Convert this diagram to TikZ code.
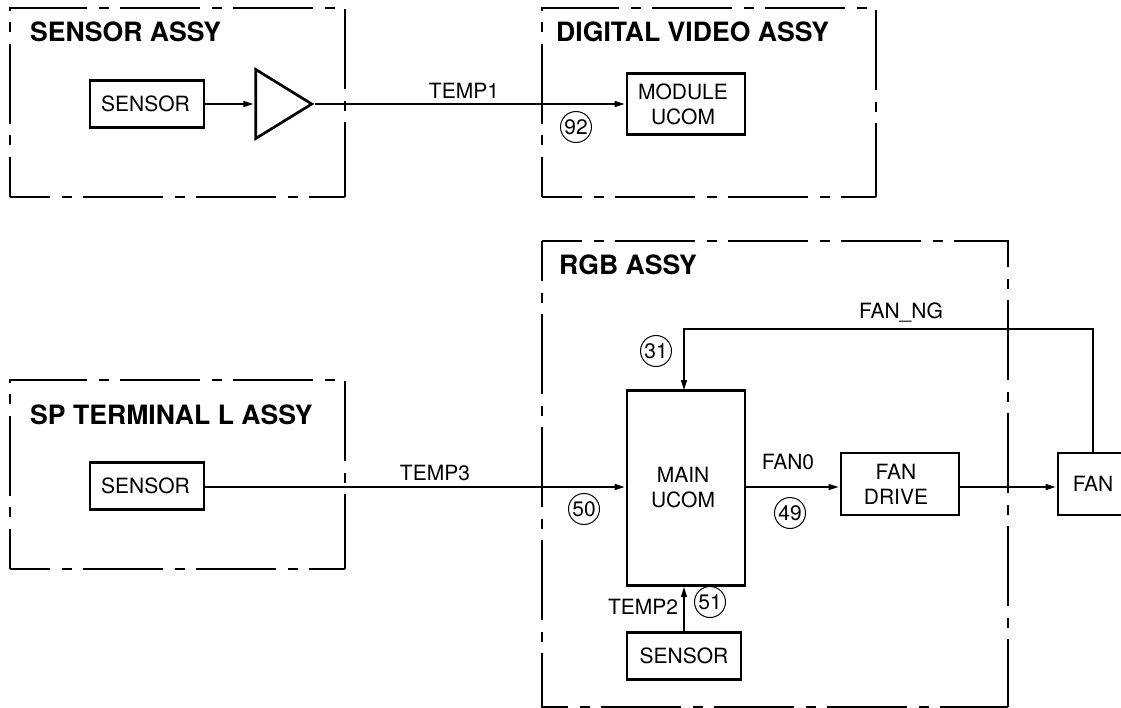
\documentclass[tikz,border=0pt]{standalone}
\usepackage{fontspec}
\setmainfont{TeX Gyre Heros}
\usetikzlibrary{arrows.meta,shapes.geometric}

\newcommand{\nudge}[1]{\hspace*{#1pt}}

\tikzset{
  assy/.style={line width=2.8pt,dash pattern=on 80pt off 12pt on 10pt off 11pt,dash phase=40pt},
  assylabel/.style={inner sep=0pt,anchor=west,font=\fontsize{26.6}{28}\selectfont\bfseries},
  block/.style={draw,line width=2.7pt,inner sep=0pt,align=center,font=\fontsize{21}{25}\selectfont},
  signal/.style={inner sep=0pt,font=\fontsize{21}{25}\selectfont},
  wire/.style={line width=1.3pt},
  feed/.style={wire,-{Stealth[inset=0pt,length=10pt,width=6pt]},shorten >=1pt},
  pinno/.style={draw,circle,line width=1pt,minimum size=31pt,inner sep=0pt,font=\fontsize{21}{25}\selectfont},
}

\begin{document}
\begin{tikzpicture}[x=1pt,y=-1pt]
\useasboundingbox (0,0) rectangle (1121,708);
\foreach \xa/\ya/\xb/\yb in {10/8/345/197,542/8/876/197,10/380/345/569}{
  \draw[assy] (\xa,\yb)--(\xa,\ya)--(\xb,\ya)--(\xb,\yb);
  \draw[assy] (\xa,\yb)--(\xb,\yb);
}
\draw[assy] (542,241)--(1008,241)--(1008,707);
\draw[assy] (542,241)--(542,707)--(1008,707);
\node[assylabel] (titleS) at (30,32) {SENSOR ASSY};
\node[assylabel] (titleD) at (556,32) {DIGITAL VIDEO ASSY};
\node[assylabel] (titleP) at (30,415) {SP TERMINAL L ASSY};
\node[assylabel] (titleR) at (559,265) {RGB ASSY};
\node[block,minimum width=114pt,minimum height=47pt] (sensorS) at (147,104) {SENSOR\nudge{3}};
\node[draw,line width=2.7pt,isosceles triangle,isosceles triangle stretches,minimum width=69pt,minimum height=56pt,inner sep=0pt] (ampS) at (275,104) {};
\node[block,minimum width=118pt,minimum height=61pt] (moduleD) at (686,104) {MODULE\nudge{6}\\UCOM\nudge{6}};
\node[block,minimum width=114pt,minimum height=47pt] (sensorP) at (147,486) {SENSOR\nudge{3}};
\node[block,minimum width=118pt,minimum height=195pt] (mainR) at (686,488) {MAIN\nudge{6}\\UCOM\nudge{6}};
\node[block,minimum width=118pt,minimum height=62pt] (driveR) at (900,484) {FAN\nudge{8}\\DRIVE\nudge{8}};
\node[block,minimum width=114pt,minimum height=47pt] (sensorR) at (684,656) {SENSOR};
\node[block,minimum width=70pt,minimum height=62pt] (fanR) at (1093,484) {FAN};
\coordinate (fanIn) at (fanR.west|-0,487);
\coordinate (mainW) at (mainR.west|-0,487);
\coordinate (mainE) at (mainR.east|-0,487);
\coordinate (driveW) at (driveR.west|-0,487);
\coordinate (driveE) at (driveR.east|-0,487);
\coordinate (mainT) at (684,391);
\coordinate (mainB) at (684,586);
\coordinate (ngTurnA) at (1093,329);
\coordinate (ngTurnB) at (684,329);
\draw[feed] (sensorS)--(ampS.west);
\draw[feed] (ampS.apex)--(moduleD);
\draw[feed] (sensorP.east|-0,487)--(mainW);
\draw[feed] (mainE)--(driveW);
\draw[feed] (driveE)--(fanIn);
\draw[feed] (fanR.north)--(ngTurnA)--(ngTurnB)--(mainT);
\draw[feed] (sensorR.north)--(mainB);
\node[signal] (temp1) at (464,91) {TEMP1};
\node[signal] (temp3) at (435,473) {TEMP3};
\node[signal] (temp2) at (643,607) {TEMP2};
\node[signal] (fan0) at (788,462) {FAN0};
\node[signal] (fanng) at (901,313) {FAN\_NG};
\node[pinno] (pin92) at (576,127) {92};
\node[pinno] (pin31) at (656,351) {31};
\node[pinno] (pin50) at (584,509) {50};
\node[pinno] (pin49) at (790,513) {49};
\node[pinno] (pin51) at (710,602) {51};
\end{tikzpicture}
\end{document}
